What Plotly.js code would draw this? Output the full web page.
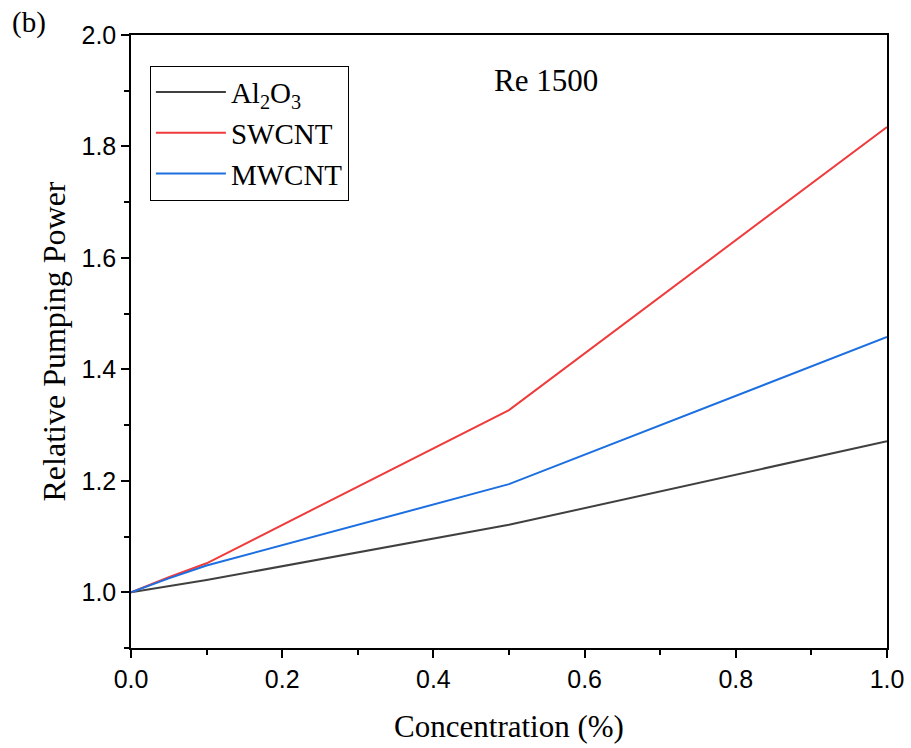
<!DOCTYPE html>
<html><head><meta charset="utf-8">
<script src="https://cdn.plot.ly/plotly-3.0.1.min.js"></script>
<style>body{margin:0;background:#fff}#c{width:911px;height:748px}</style>
</head><body><div id="c"></div>
<script>
const conc = [0, 0.05, 0.1, 0.5, 1.0];
const al2o3 = [1.0, 1.011, 1.022, 1.121, 1.271];
const swcnt = [1.0, 1.027, 1.052, 1.327, 1.835];
const mwcnt = [1.0, 1.025, 1.048, 1.194, 1.458];
const names = ['Al<sub>2</sub>O<sub>3</sub>', 'SWCNT', 'MWCNT'];
const colors = ['#404040', '#ef3b3b', '#1c6fe0'];
const series = [al2o3, swcnt, mwcnt];
const data = series.map((s, i) => ({
  x: conc, y: s, type: 'scatter', mode: 'lines', name: names[i],
  line: {color: colors[i], width: 2}
}));
const serif = 'Liberation Serif, Times New Roman, serif';
const sans = 'Liberation Sans, Arial, sans-serif';
const layout = {
  width: 911, height: 748,
  margin: {l: 131, r: 24, t: 35, b: 100},
  paper_bgcolor: '#fff', plot_bgcolor: '#fff',
  showlegend: true,
  legend: {x: 0.025, y: 0.95, xanchor: 'left', yanchor: 'top',
    bordercolor: '#000', borderwidth: 1, bgcolor: '#fff', itemwidth: 70,
    font: {family: serif, size: 29, color: '#000'}, tracegroupgap: 0},
  xaxis: {range: [0, 1], tickvals: [0, 0.2, 0.4, 0.6, 0.8, 1.0],
    ticktext: ['0.0', '0.2', '0.4', '0.6', '0.8', '1.0'],
    ticks: 'outside', ticklen: 8, tickwidth: 1.5, tickcolor: '#000',
    minor: {ticks: 'outside', dtick: 0.1, ticklen: 5, tickwidth: 1.5, tickcolor: '#000'},
    showline: true, linecolor: '#000', linewidth: 1.5, mirror: true,
    showgrid: false, zeroline: false,
    tickfont: {family: sans, size: 25, color: '#000'},
    title: {text: 'Concentration (%)', font: {family: serif, size: 31, color: '#000'}, standoff: 24}},
  yaxis: {range: [0.9, 2.0], tickvals: [1.0, 1.2, 1.4, 1.6, 1.8, 2.0],
    ticktext: ['1.0', '1.2', '1.4', '1.6', '1.8', '2.0'],
    ticks: 'outside', ticklen: 8, tickwidth: 1.5, tickcolor: '#000',
    minor: {ticks: 'outside', dtick: 0.1, tick0: 0.9, ticklen: 5, tickwidth: 1.5, tickcolor: '#000'},
    showline: true, linecolor: '#000', linewidth: 1.5, mirror: true,
    showgrid: false, zeroline: false,
    tickfont: {family: sans, size: 25, color: '#000'},
    title: {text: 'Relative Pumping Power', font: {family: serif, size: 32, color: '#000'}, standoff: 6}},
  annotations: [
    {text: '(b)', xref: 'paper', yref: 'paper', x: -0.160, y: 1.021,
     xanchor: 'left', yanchor: 'middle', showarrow: false,
     font: {family: serif, size: 29, color: '#000'}},
    {text: 'Re 1500', xref: 'paper', yref: 'paper', x: 0.549, y: 0.925,
     xanchor: 'center', yanchor: 'middle', showarrow: false,
     font: {family: serif, size: 31, color: '#000'}}
  ]
};
Plotly.newPlot('c', data, layout, {displayModeBar: false});
</script></body></html>
